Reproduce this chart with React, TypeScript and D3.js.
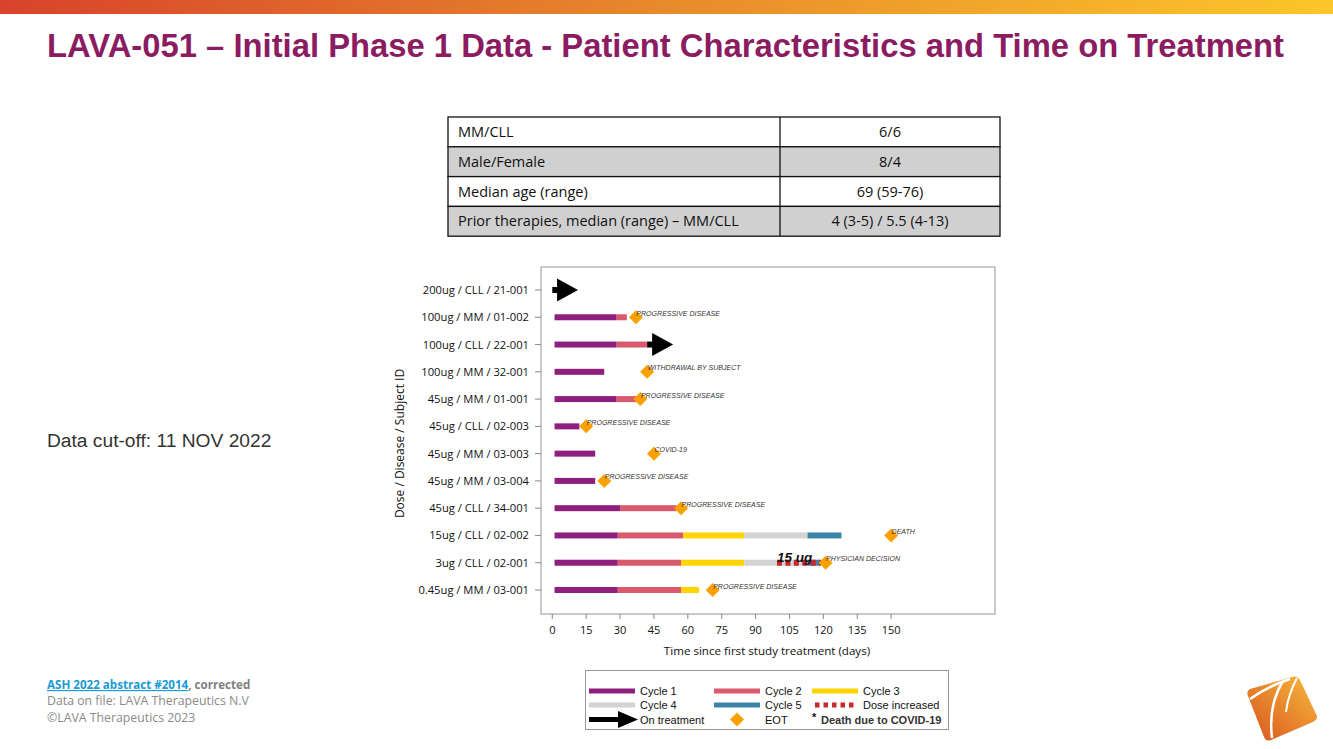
import React from "react";
import * as d3 from "d3";

const subjects = [
  "200ug / CLL / 21-001",
  "100ug / MM / 01-002",
  "100ug / CLL / 22-001",
  "100ug / MM / 32-001",
  "45ug / MM / 01-001",
  "45ug / CLL / 02-003",
  "45ug / MM / 03-003",
  "45ug / MM / 03-004",
  "45ug / CLL / 34-001",
  "15ug / CLL / 02-002",
  "3ug / CLL / 02-001",
  "0.45ug / MM / 03-001",
];
const treatmentStart = 1;
const cycle1End = [null, 28.5, 28.5, 23, 28.5, 12, 19, 19, 30, 29, 29, 29];
const cycle2End = [null, 33, 42, null, 37.5, null, null, null, 55, 58, 57, 57];
const cycle3End = [null, null, null, null, null, null, null, null, null, 85, 85, 65];
const cycle4End = [null, null, null, null, null, null, null, null, null, 113, 113, null];
const cycle5End = [null, null, null, null, null, null, null, null, null, 128, 118.5, null];
const eotDay = [null, 37, null, 42, 39, 15, 45, 23, 57, 150, 121, 71];
const eotReason = [
  "",
  "PROGRESSIVE DISEASE",
  "",
  "WITHDRAWAL BY SUBJECT",
  "PROGRESSIVE DISEASE",
  "PROGRESSIVE DISEASE",
  "COVID-19",
  "PROGRESSIVE DISEASE",
  "PROGRESSIVE DISEASE",
  "DEATH",
  "PHYSICIAN DECISION",
  "PROGRESSIVE DISEASE",
];
const onTreatmentFrom = [0, null, 42, null, null, null, null, null, null, null, null, null];
const onTreatmentTo = [11.4, null, 53.5, null, null, null, null, null, null, null, null, null];
const doseIncreaseFrom = [null, null, null, null, null, null, null, null, null, null, 99.5, null];
const doseIncreaseTo = [null, null, null, null, null, null, null, null, null, null, 119, null];
const doseIncreaseLabel = "15 ug";
const xTicks = [0, 15, 30, 45, 60, 75, 90, 105, 120, 135, 150];

const cycleNames = ["Cycle 1", "Cycle 2", "Cycle 3", "Cycle 4", "Cycle 5"];
const cycleColors = ["#8e1f7f", "#d95a6c", "#ffd500", "#d3d3d3", "#3a84aa"];
const eotColor = "#f9a100";

const tableLabels = [
  "MM/CLL",
  "Male/Female",
  "Median age (range)",
  "Prior therapies, median (range) – MM/CLL",
];
const tableValues = ["6/6", "8/4", "69 (59-76)", "4 (3-5) / 5.5 (4-13)"];

export default function App() {
  const W = 1333,
    H = 749;
  const plot = { l: 541, r: 995, t: 267, b: 614 };
  const x = d3.scaleLinear().domain([-5, 196]).range([plot.l, plot.r]);
  const y = d3.scalePoint<string>().domain(subjects).range([290, 590]);
  const barH = 6;
  const headLen = 21;
  const headHalf = 11.5;
  const sans = "'Open Sans', sans-serif";
  const arial = "'Liberation Sans', Arial, sans-serif";

  const cycleEnds = [cycle1End, cycle2End, cycle3End, cycle4End, cycle5End];

  const segments: { i: number; c: number; x0: number; x1: number }[] = [];
  subjects.forEach((_, i) => {
    let prev = treatmentStart;
    cycleEnds.forEach((arr, c) => {
      const v = arr[i];
      if (v != null) {
        segments.push({ i, c, x0: prev, x1: v });
        prev = v;
      }
    });
  });

  const tbl = { l: 448, r: 1000, mid: 780, t: 117, rowH: 29.8 };

  const diamond = (cx: number, cy: number, r: number) =>
    `M${cx},${cy - r}L${cx + r},${cy}L${cx},${cy + r}L${cx - r},${cy}Z`;

  return (
    <svg
      width={W}
      height={H}
      style={{ position: "absolute", left: 0, top: 0, background: "#fff" }}
      fontFamily={sans}
    >
      <defs>
        <linearGradient id="topbar" x1="0" x2="1" y1="0" y2="0">
          <stop offset="0" stopColor="#d8432b" />
          <stop offset="0.5" stopColor="#e88a2b" />
          <stop offset="1" stopColor="#fcc62a" />
        </linearGradient>
        <linearGradient id="logo" x1="1" y1="0" x2="0" y2="1">
          <stop offset="0" stopColor="#f6bb3c" />
          <stop offset="1" stopColor="#d9531f" />
        </linearGradient>
      </defs>
      <rect x={0} y={0} width={W} height={14} fill="url(#topbar)" />
      <text
        x={47}
        y={57}
        fontFamily={arial}
        fontWeight="bold"
        fontSize={34}
        fill="#8b1c62"
        textLength={1237}
        lengthAdjust="spacingAndGlyphs"
      >
        LAVA-051 – Initial Phase 1 Data - Patient Characteristics and Time on Treatment
      </text>

      {/* Table */}
      {tableLabels.map((lab, i) => {
        const ty = tbl.t + i * tbl.rowH;
        return (
          <g key={lab}>
            <rect
              x={tbl.l}
              y={ty}
              width={tbl.r - tbl.l}
              height={tbl.rowH}
              fill={i % 2 === 1 ? "#d0d0d0" : "#fff"}
              stroke="#111"
              strokeWidth={1.3}
            />
            <line x1={tbl.mid} x2={tbl.mid} y1={ty} y2={ty + tbl.rowH} stroke="#111" strokeWidth={1.3} />
            <text x={tbl.l + 10} y={ty + tbl.rowH / 2 + 5} fontSize={14.5} fill="#111">
              {lab}
            </text>
            <text x={(tbl.mid + tbl.r) / 2} y={ty + tbl.rowH / 2 + 5} fontSize={14.5} fill="#111" textAnchor="middle">
              {tableValues[i]}
            </text>
          </g>
        );
      })}

      <text x={47} y={447} fontFamily={arial} fontSize={19.2} fill="#333">
        Data cut-off: 11 NOV 2022
      </text>

      {/* Plot frame */}
      <rect x={plot.l} y={plot.t} width={plot.r - plot.l} height={plot.b - plot.t} fill="#fff" stroke="#a6a6a6" strokeWidth={1.2} />

      {/* Y axis */}
      {subjects.map((s) => (
        <g key={s}>
          <line x1={plot.l - 6} x2={plot.l} y1={y(s)} y2={y(s)} stroke="#888" />
          <text x={plot.l - 12} y={(y(s) as number) + 4} fontSize={11.2} textAnchor="end" fill="#111">
            {s}
          </text>
        </g>
      ))}
      <text
        transform={`translate(404,${(plot.t + plot.b) / 2 + 3}) rotate(-90)`}
        fontSize={12}
        textAnchor="middle"
        fill="#111"
      >
        Dose / Disease / Subject ID
      </text>

      {/* X axis */}
      {xTicks.map((t) => (
        <g key={t}>
          <line x1={x(t)} x2={x(t)} y1={plot.b} y2={plot.b + 5} stroke="#888" />
          <text x={x(t)} y={plot.b + 20} fontSize={11} textAnchor="middle" fill="#111">
            {t}
          </text>
        </g>
      ))}
      <text x={767} y={655} fontSize={11.6} textAnchor="middle" fill="#111">
        Time since first study treatment (days)
      </text>

      {/* Bars */}
      {segments.map((sg, k) => (
        <rect
          key={k}
          x={x(sg.x0)}
          y={(y(subjects[sg.i]) as number) - barH / 2}
          width={x(sg.x1) - x(sg.x0)}
          height={barH}
          fill={cycleColors[sg.c]}
        />
      ))}

      {/* Dose increased */}
      {subjects.map((s, i) =>
        doseIncreaseFrom[i] != null ? (
          <g key={"d" + i}>
            <line
              x1={x(doseIncreaseFrom[i] as number)}
              x2={x(doseIncreaseTo[i] as number)}
              y1={y(s)}
              y2={y(s)}
              stroke="#c8282a"
              strokeWidth={barH}
              strokeDasharray="5,3.4"
            />
            <text
              x={x(doseIncreaseFrom[i] as number)}
              y={(y(s) as number) - 1}
              fontFamily={arial}
              fontSize={13.5}
              fontWeight="bold"
              fontStyle="italic"
              fill="#111"
            >
              {doseIncreaseLabel}
            </text>
          </g>
        ) : null
      )}

      {/* On treatment arrows */}
      {subjects.map((s, i) => {
        const f = onTreatmentFrom[i];
        const t = onTreatmentTo[i];
        if (f == null || t == null) return null;
        const cy = y(s) as number;
        const tip = x(t);
        const base = tip - headLen;
        return (
          <g key={"a" + i}>
            <rect x={x(f)} y={cy - barH / 2} width={Math.max(0, base - x(f) + 1)} height={barH} fill="#000" />
            <path d={`M${base},${cy - headHalf}L${tip},${cy}L${base},${cy + headHalf}Z`} fill="#000" />
          </g>
        );
      })}

      {/* EOT */}
      {subjects.map((s, i) => {
        const d = eotDay[i];
        if (d == null) return null;
        const cy = y(s) as number;
        return (
          <g key={"e" + i}>
            <path d={diamond(x(d), cy, 7)} fill={eotColor} />
            <text
              x={x(d) + 0.5}
              y={cy - 1.5}
              fontFamily={arial}
              fontSize={7}
              fontStyle="italic"
              letterSpacing={0.02}
              fill="#333"
            >
              {eotReason[i]}
            </text>
          </g>
        );
      })}

      {/* Legend */}
      <g fontFamily={arial} fontSize={11} fill="#111">
        <rect x={585.5} y={670.5} width={363} height={59} fill="#fff" stroke="#999" />
        {[
          { c: 0, lx: 589, ty: 691 },
          { c: 1, lx: 714, ty: 691 },
          { c: 2, lx: 812, ty: 691 },
          { c: 3, lx: 589, ty: 705 },
          { c: 4, lx: 714, ty: 705 },
        ].map((it) => (
          <g key={it.c}>
            <line x1={it.lx} x2={it.lx + 46} y1={it.ty} y2={it.ty} stroke={cycleColors[it.c]} strokeWidth={5} />
            <text x={it.lx + 51} y={it.ty + 4}>
              {cycleNames[it.c]}
            </text>
          </g>
        ))}
        <line x1={815} x2={855} y1={705} y2={705} stroke="#c8282a" strokeWidth={5} strokeDasharray="4.5,4" />
        <text x={863} y={709}>Dose increased</text>
        <rect x={589} y={717} width={30} height={5} fill="#000" />
        <path d="M618,711L638,719.5L618,728Z" fill="#000" />
        <text x={640} y={724}>On treatment</text>
        <path d={diamond(737, 719.5, 7)} fill={eotColor} />
        <text x={765} y={724}>EOT</text>
        <text x={812} y={721} fontWeight="bold" fontSize={11}>*</text>
        <text x={821} y={724} fontWeight="bold" fill="#333">Death due to COVID-19</text>
      </g>

      {/* Footnote */}
      <g fontSize={12.3} fontFamily={sans}>
        <text x={47} y={689} fontWeight="bold" fontSize={11.6}>
          <tspan fill="#1a9ad6" textDecoration="underline">ASH 2022 abstract #2014</tspan>
          <tspan fill="#7f7f7f">, corrected</tspan>
        </text>
        <text x={47} y={705} fill="#8a8a8a">Data on file: LAVA Therapeutics N.V</text>
        <text x={47} y={722} fill="#8a8a8a">©LAVA Therapeutics 2023</text>
      </g>

      {/* Logo */}
      <g>
        <path
          d="M1250,689 Q1246,691 1248,696 L1264,737 Q1266,742 1271,740 L1313,722 Q1319,719 1316,714 L1300,680 Q1297,675 1292,677 Z"
          fill="url(#logo)"
        />
        <path d="M1250,699 Q1268,686 1290,679" stroke="#fff" strokeWidth={2.5} fill="none" />
        <path d="M1283,681 Q1268,705 1272,738" stroke="#fff" strokeWidth={2.5} fill="none" />
        <path d="M1297,678 Q1288,695 1286,712" stroke="#fff" strokeWidth={2} fill="none" />
      </g>
    </svg>
  );
}
